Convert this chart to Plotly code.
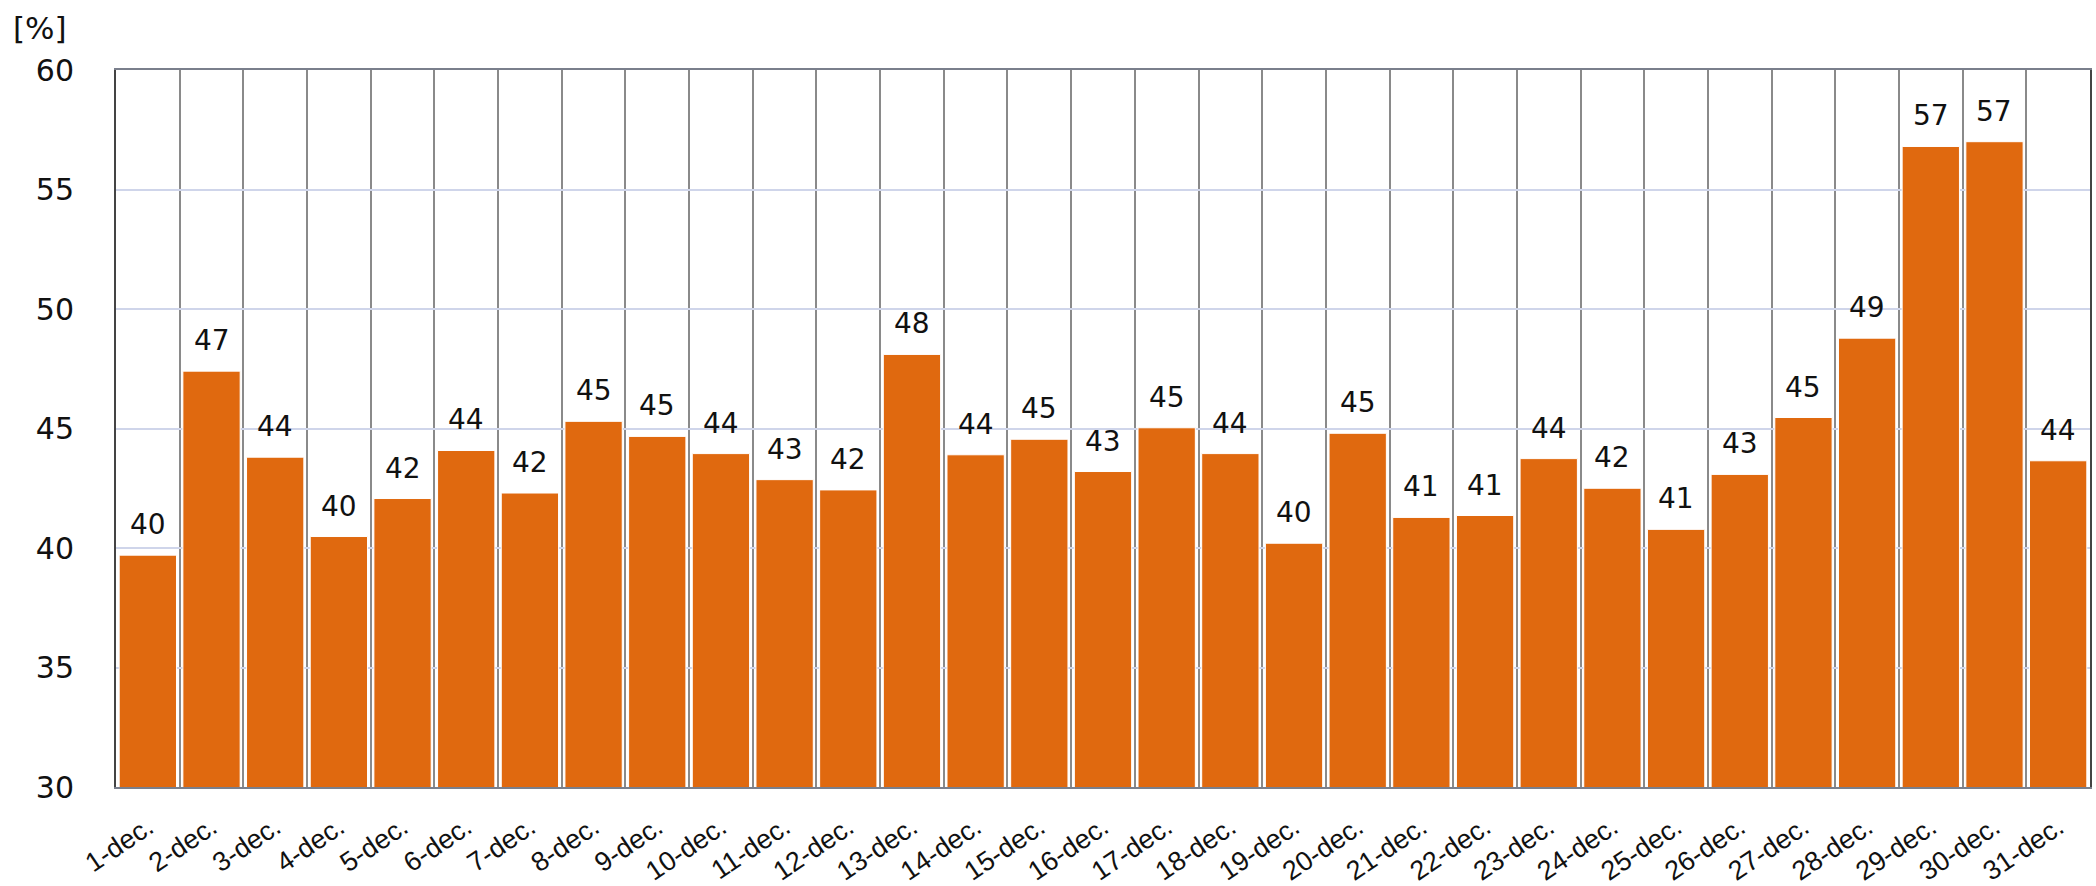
import plotly.graph_objects as go

categories = [f"{d}-dec." for d in range(1, 32)]
values = [39.7, 47.4, 43.8, 40.48, 42.07, 44.08, 42.3, 45.3, 44.67, 43.95,
          42.86, 42.43, 48.1, 43.9, 44.55, 43.2, 45.03, 43.95, 40.2, 44.8,
          41.28, 41.36, 43.74, 42.5, 40.78, 43.08, 45.46, 48.78, 56.8, 57.0,
          43.65]
labels = [f"{v:.0f}" for v in values]
y_ticks = [30, 35, 40, 45, 50, 55, 60]
y_unit = "[%]"

fig = go.Figure()
fig.add_trace(go.Bar(
    x=categories, y=values,
    marker=dict(color="#E0690F", line=dict(color="#FFFFFF", width=1)),
    hoverinfo="x+y",
))

for c, v, t in zip(categories, values, labels):
    fig.add_annotation(x=c, y=v, text=t, showarrow=False,
                       yanchor="bottom", yshift=12,
                       font=dict(family="DejaVu Sans", size=28, color="#111"))

fig.add_annotation(xref="paper", yref="paper", x=-0.053, y=1.058,
                   xanchor="left", yanchor="middle", text=y_unit,
                   showarrow=False,
                   font=dict(family="DejaVu Sans", size=31, color="#111"))

fig.update_layout(
    width=2096, height=886,
    margin=dict(l=116, r=6, t=70, b=99),
    plot_bgcolor="white", paper_bgcolor="white",
    bargap=0.1, showlegend=False,
)
fig.update_xaxes(
    type="category", tickangle=-34, tickson="boundaries", automargin=False,
    showgrid=True, gridcolor="#8a8a8a", gridwidth=2,
    showline=True, linecolor="#7a7f8c", linewidth=2, mirror=True,
    ticks="", ticklabelstandoff=12,
    tickfont=dict(family="Liberation Sans, Arial", size=27, color="#111"),
)
fig.update_yaxes(
    range=[30, 60], tickvals=y_ticks, automargin=False,
    showgrid=True, gridcolor="#cfd5ea", gridwidth=2,
    showline=True, linecolor="#444444", linewidth=2, mirror=True,
    ticks="", ticklabelstandoff=34, zeroline=False,
    tickfont=dict(family="DejaVu Sans", size=30, color="#111"),
)

fig.write_html(
    "out.html",
    config={"displayModeBar": False},
    post_script="document.body.style.margin='0';document.body.style.overflow='hidden';",
)
